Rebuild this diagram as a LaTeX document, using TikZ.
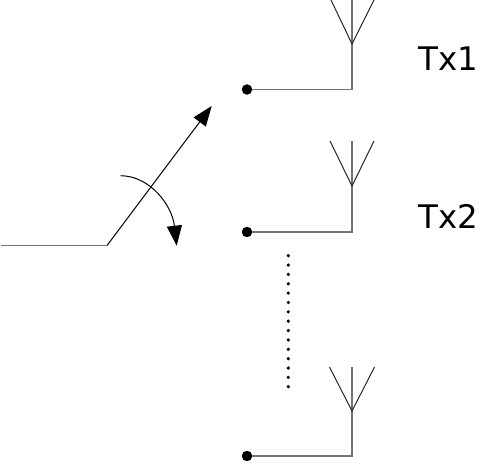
\documentclass[tikz,border=0pt]{standalone}
\usepackage{fontspec}
\setmainfont{DejaVu Sans}
\usetikzlibrary{arrows.meta}
\tikzset{
  wire/.style={draw=black!55, line width=1.3pt},
  arm/.style={draw=black!85, line width=1pt},
  contact/.style={circle, fill=black, inner sep=0pt, minimum size=10.5pt},
  label/.style={inner sep=0pt, font=\fontsize{32.5}{35}\selectfont, anchor=base west},
  pointer/.style={draw=black, line width=1pt, -{Triangle[length=20pt,width=15pt]}},
  dotmark/.style={circle, fill=black, inner sep=0pt, minimum size=3.6pt}
}
\begin{document}
\begin{tikzpicture}[x=1pt,y=-1pt]
\useasboundingbox (0,0) rectangle (480,465);
% contacts
\node[contact] (c1) at (247,89.5) {};
\node[contact] (c2) at (247,232) {};
\node[contact] (c3) at (247,456) {};
% antenna 1
\coordinate (b1) at (352,89.5);
\coordinate (a1) at (352,44);
\coordinate (t1) at (352,0);
\coordinate (l1) at (331,0);
\coordinate (r1) at (374,0);
\draw[wire] (c1) -- (b1) -- (t1);
\draw[arm] (l1) -- (a1) -- (r1);
% antenna 2
\coordinate (b2) at (352,232);
\coordinate (a2) at (352,186);
\coordinate (t2) at (352,141);
\coordinate (l2) at (330,141);
\coordinate (r2) at (374,141);
\draw[wire] (c2) -- (b2) -- (t2);
\draw[arm] (l2) -- (a2) -- (r2);
% antenna 3
\coordinate (b3) at (352,456);
\coordinate (a3) at (352,411);
\coordinate (t3) at (352,367);
\coordinate (l3) at (329.5,367);
\coordinate (r3) at (374.5,367);
\draw[wire] (c3) -- (b3) -- (t3);
\draw[arm] (l3) -- (a3) -- (r3);
% labels
\node[label] (tx1) at (418.5,71) {Tx1};
\node[label] (tx2) at (418.5,229) {Tx2};
% switch
\coordinate (in) at (1,245.5);
\coordinate (pivot) at (107,245.5);
\coordinate (tip) at (211.7,106);
\draw[wire] (in) -- (pivot);
\draw[pointer] (pivot) -- (tip);
\coordinate (arcs) at (120.7,175.7);
\coordinate (arce) at (176.7,245.7);
\draw[pointer] (arcs) .. controls (150,176) and (172,205) .. (arce);
% vertical dots
\foreach \i in {0,...,14} {
  \node[dotmark] (d\i) at (288.3,255.7+9.36*\i) {};
}
\end{tikzpicture}
\end{document}
